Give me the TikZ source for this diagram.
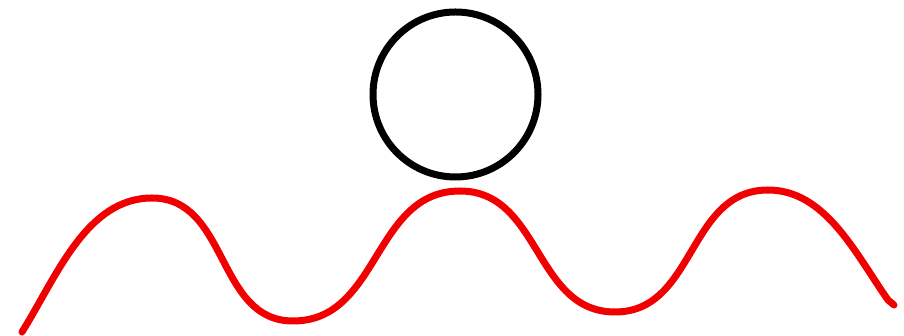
\documentclass[tikz,border=0pt]{standalone}
\usetikzlibrary{calc}
\definecolor{wavered}{RGB}{240,0,0}
\tikzset{
  ball/.style={draw=black,line width=7pt},
  wave/.style={draw=wavered,line width=7pt,line cap=round,line join=round}
}
\begin{document}
\begin{tikzpicture}[x=1pt,y=1pt]
\useasboundingbox (0,0) rectangle (904,336);
\coordinate (c) at (455.5,241.5);
\draw[ball] (c) circle (82.5);
\coordinate (s) at (22,4);
\coordinate (p1) at (152,138);
\coordinate (t1) at (293,15);
\coordinate (p2) at (460,145);
\coordinate (t2) at (615,24);
\coordinate (p3) at (768,146);
\coordinate (e) at (888,36);
\coordinate (h) at (894,31);
\draw[wave] (s) to[out=58,in=180,looseness=0.9] (p1)
  to[out=0,in=180,looseness=1.05] (t1)
  to[out=0,in=180,looseness=1.05] (p2)
  to[out=0,in=180,looseness=1.05] (t2)
  to[out=0,in=180,looseness=1.05] (p3)
  to[out=0,in=125,looseness=0.9] (e) -- (h);
\end{tikzpicture}
\end{document}
